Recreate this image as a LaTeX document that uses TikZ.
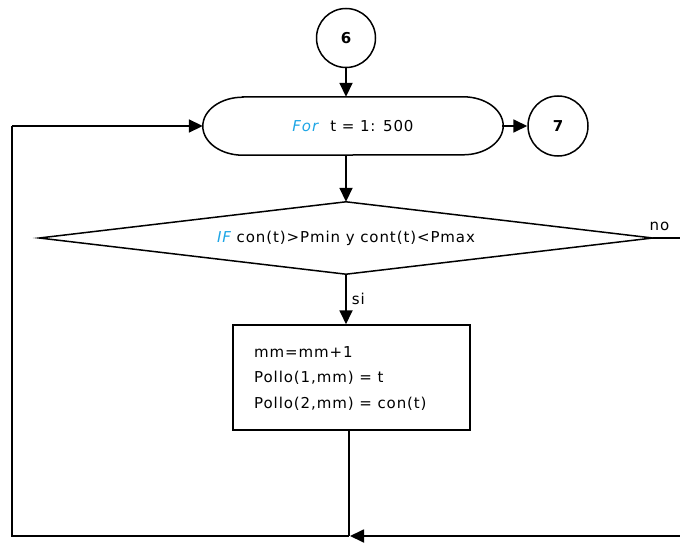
\documentclass[tikz,border=0pt]{standalone}
\usepackage{fontspec}
\setmainfont[LetterSpace=6]{DejaVu Sans}
\usetikzlibrary{arrows.meta}
\definecolor{kwblue}{HTML}{1EA6E6}
\tikzset{
  flow/.style={line width=1.8pt, draw=black},
  arr/.style={flow, -{Triangle[length=14pt,width=13pt]}},
  conn/.style={circle, draw, line width=1.5pt, minimum size=59pt, inner sep=0pt, font=\fontsize{15}{17}\selectfont\bfseries},
  txt/.style={font=\fontsize{15}{17}\selectfont, inner sep=0pt},
}
\begin{document}
\begin{tikzpicture}[x=1pt,y=1pt]
\useasboundingbox (0,0) rectangle (680,542);
\fill[white] (0,0) rectangle (680,542);

% connectors
\node[conn] (c6) at (346,504) {6};
\node[conn, minimum size=60pt] (c7) at (558,416) {7};

% loop header (terminator shape)
\node[draw=none, minimum width=300pt, minimum height=58pt, inner sep=0pt, txt] (for) at (353,416)
  {\textcolor{kwblue}{\itshape For}\hspace{12pt}t = 1: 500};
\draw[line width=1.5pt] ([xshift=40pt]for.north west) -- ([xshift=-40pt]for.north east)
  arc[start angle=90, end angle=-90, x radius=40pt, y radius=29pt]
  -- ([xshift=40pt]for.south west)
  arc[start angle=270, end angle=90, x radius=40pt, y radius=29pt] -- cycle;

% decision
\node[draw=none, minimum width=613pt, minimum height=72pt, inner sep=0pt, txt] (dia) at (346,304)
  {\textcolor{kwblue}{\itshape IF} con(t)>Pmin y cont(t)<Pmax};
\draw[line width=1.5pt] (dia.west) -- (dia.north) -- (dia.east) -- (dia.south) -- cycle;

% process box
\node[draw, line width=1.5pt, minimum width=237pt, minimum height=105pt, inner sep=0pt] (box) at (351.5,164.5) {};
\node[txt, anchor=west] (l1) at (254,190) {mm=mm+1};
\node[txt, anchor=west] (l2) at (254,164) {Pollo(1,mm) = t};
\node[txt, anchor=west] (l3) at (254,138) {Pollo(2,mm) = con(t)};

% loop-back path
\coordinate (bl) at (12,6);
\coordinate (tl) at (12,416);
\coordinate (bj) at (349,6);
\coordinate (br) at (680,6);
\coordinate (nr) at (680,304);

\draw[arr] (c6) -- (for.north -| c6);
\draw[arr] ([xshift=-1pt]for.east) -- (c7);
\draw[arr] (for.south -| dia.north) -- (dia.north);
\draw[arr] (dia.south) -- node[txt, right=5pt] {si} (dia.south |- box.north);
\draw[flow] (dia.east) -- node[txt, above=6pt, pos=0.25] {no} (nr);
\draw[flow] (box.south -| bj) -- (bj);
\draw[arr] (br) -- ([xshift=1pt]bj);
\draw[flow, line join=miter] (bj) -- (bl) -- (tl);
\draw[arr] (tl) -- (for.west);
\end{tikzpicture}
\end{document}
